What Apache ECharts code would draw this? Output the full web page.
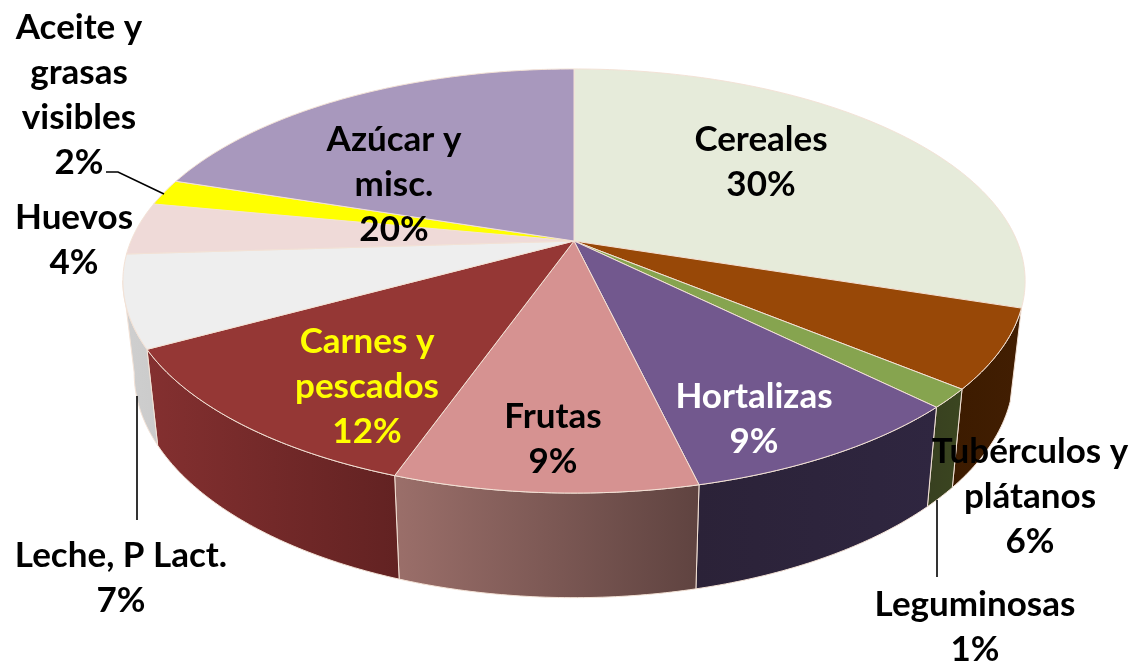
<!DOCTYPE html>
<html>
<head>
<meta charset="utf-8">
<style>
  html, body { margin: 0; padding: 0; background: #fff; }
  #container { width: 1132px; height: 662px; }
</style>
<script src="https://cdn.jsdelivr.net/npm/echarts@6/dist/echarts.min.js"></script>
</head>
<body>
<div id="container"></div>
<script>
var categories = ["Cereales", "Tubérculos y\nplátanos", "Leguminosas", "Hortalizas", "Frutas",
  "Carnes y\npescados", "Leche, P Lact.", "Huevos", "Aceite y\ngrasas\nvisibles", "Azúcar y\nmisc."];
var values = [30, 6, 1.45, 8.85, 9.1, 11.6, 7, 4, 2, 20];

var topColors = ["#e6ebda", "#984807", "#86a44f", "#72588e", "#d69291", "#953735", "#eeeeee", "#efdad8", "#ffff00", "#a898bd"];
// side wall colours, left to right; back slices have no wall
var wallColors = [null, ["#421e02", "#3c1b00"], ["#3b4620", "#384020"], ["#2f2640", "#2b2238"],
  ["#9b6f6a", "#5f4340"], ["#843030", "#622222"], ["#cfcfcf", "#cbcbcb"], null, null, null];
var labelColors = ["#000", "#000", "#000", "#fff", "#000", "#ffff00", "#000", "#000", "#000", "#000"];
var labelPos = [[761, 162], [1030, 497], [975, 627], [754, 419], [553, 439], [367, 387], [121, 578], [74, 240], [79, 95], [394, 185]];
var leaderLines = [
  [[106, 172], [118, 172], [164, 194]],
  [[137, 396], [137, 520]],
  [[937, 500], [937, 577]]
];

var total = values.reduce(function (a, b) { return a + b; }, 0);
var cumulative = [0];
values.forEach(function (v, i) { cumulative.push(cumulative[i] + v); });

// perspective view of the disc
var cx = 574, cy = 241, k = 443, a = 204.5, b = 0.1887;
var visibleFrom = 0.28 * Math.PI * 2, visibleTo = 0.72 * Math.PI * 2;
var edgeColor = "#f3e2d6";

function angle(p) {
  return echarts.number.linearMap(p, [0, total], [0, Math.PI * 2]);
}
function topPoint(t) {
  var u = Math.sin(t), v = -Math.cos(t), d = 1 - b * v;
  return [cx + k * u / d, cy + a * v / d];
}
function bottomPoint(t) {
  var p = topPoint(t);
  return [cx + 0.975 * (p[0] - cx), 1.06 * p[1] + 75];
}
function arc(fn, t0, t1) {
  var n = Math.max(2, Math.ceil((t1 - t0) / 0.012)), pts = [];
  for (var i = 0; i <= n; i++) pts.push(fn(t0 + (t1 - t0) * i / n));
  return pts;
}

function renderWall(params, api) {
  var i = api.value(0);
  if (!wallColors[i]) return null;
  var t0 = Math.max(angle(cumulative[i]), visibleFrom);
  var t1 = Math.min(angle(cumulative[i + 1]), visibleTo);
  var points = arc(topPoint, t0, t1).concat(arc(bottomPoint, t0, t1).reverse());
  return {
    type: "polygon",
    shape: { points: points },
    style: {
      fill: new echarts.graphic.LinearGradient(0, 0, 1, 0, [
        { offset: 0, color: i < 4 ? wallColors[i][1] : wallColors[i][0] },
        { offset: 1, color: i < 4 ? wallColors[i][0] : wallColors[i][1] }
      ]),
      stroke: edgeColor,
      lineWidth: 1
    }
  };
}

function renderTop(params, api) {
  var i = api.value(0);
  var points = [[cx, cy]].concat(arc(topPoint, angle(cumulative[i]), angle(cumulative[i + 1])));
  return {
    type: "polygon",
    shape: { points: points },
    style: { fill: topColors[i], stroke: edgeColor, lineWidth: 1 }
  };
}

function renderLabel(params, api) {
  var i = api.value(0);
  return {
    type: "text",
    x: labelPos[i][0],
    y: labelPos[i][1],
    style: {
      text: categories[i] + "\n" + Math.round(values[i]) + "%",
      fill: labelColors[i],
      font: "bold 35px Lato",
      lineHeight: 45,
      align: "center",
      verticalAlign: "middle"
    }
  };
}

var seriesData = values.map(function (v, i) { return { name: categories[i], value: [i, v] }; });
var dom = document.getElementById("container");
var myChart = echarts.init(dom, null, { renderer: "canvas" });

var option = {
  animation: false,
  backgroundColor: "#fff",
  tooltip: { show: false },
  series: [
    { type: "custom", coordinateSystem: "none", silent: true, z: 1, renderItem: renderWall, data: seriesData },
    { type: "custom", coordinateSystem: "none", silent: true, z: 2, renderItem: renderTop, data: seriesData },
    { type: "custom", coordinateSystem: "none", silent: true, z: 4, renderItem: renderLabel, data: seriesData }
  ],
  graphic: leaderLines.map(function (pts) {
    return {
      type: "polyline",
      z: 3,
      silent: true,
      shape: { points: pts },
      style: { stroke: "#000", lineWidth: 1.6, fill: null }
    };
  })
};
myChart.setOption(option);

window.addEventListener("resize", myChart.resize);
</script>
</body>
</html>
